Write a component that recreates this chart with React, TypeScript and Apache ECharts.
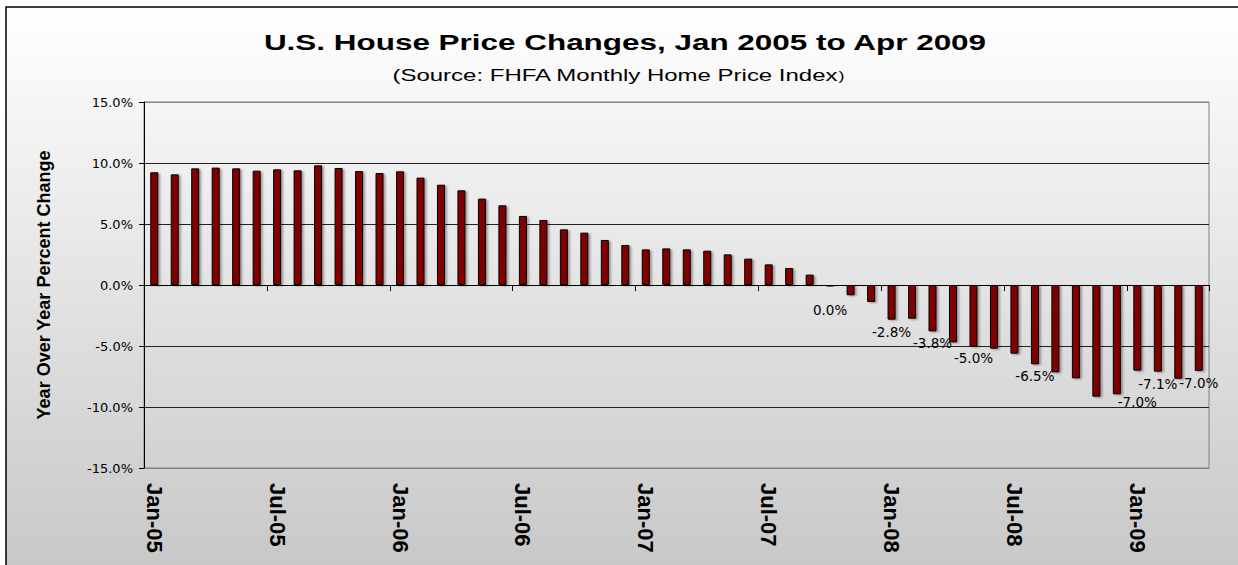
import React, { useEffect, useRef } from "react";
import * as echarts from "echarts";

const MONTHS = ["Jan", "Feb", "Mar", "Apr", "May", "Jun", "Jul", "Aug", "Sep", "Oct", "Nov", "Dec"];
const YEARS = ["05", "06", "07", "08", "09"];
const MONTHS_IN_LAST_YEAR = 4;

const CATEGORIES: string[] = [];
YEARS.forEach((y, yi) => {
  const n = yi === YEARS.length - 1 ? MONTHS_IN_LAST_YEAR : 12;
  for (let m = 0; m < n; m++) CATEGORIES.push(`${MONTHS[m]}-${y}`);
});

// Year-over-year percent change, Jan 2005 .. Apr 2009
const YOY_CHANGE = [
  9.24, 9.07, 9.56, 9.62, 9.56, 9.37, 9.48, 9.40, 9.81, 9.59, 9.34, 9.18,
  9.32, 8.80, 8.22, 7.76, 7.08, 6.53, 5.66, 5.33, 4.56, 4.29, 3.69, 3.28,
  2.92, 3.00, 2.92, 2.81, 2.51, 2.16, 1.69, 1.39, 0.85, -0.04, -0.84, -1.39,
  -2.84, -2.76, -3.80, -4.70, -5.04, -5.22, -5.63, -6.50, -7.16, -7.65, -9.15, -8.96,
  -7.02, -7.10, -7.68, -7.04,
];

const LABELED_INDEXES = [33, 36, 38, 40, 43, 48, 49, 51];
const LABEL_DISTANCE_OVERRIDES: Record<number, number> = { 33: 16, 48: 24 };

const Y_MIN = -15;
const Y_MAX = 15;
const Y_INTERVAL = 5;

const TITLE = "U.S. House Price Changes, Jan 2005 to Apr 2009";
const SUBTITLE = "(Source: FHFA Monthly Home Price Index";
const Y_NAME = "Year Over Year Percent Change";

const FONT = '"Liberation Sans", Arial, sans-serif';
const WIDE_FONT = '"DejaVu Sans", Verdana, sans-serif';

const fmtPct = (v: number) => {
  const r = Math.round(v * 10) / 10;
  return (r === 0 ? 0 : r).toFixed(1) + "%";
};

export default function App() {
  const ref = useRef<HTMLDivElement>(null);

  useEffect(() => {
    if (!ref.current) return;
    const chart = echarts.init(ref.current, undefined, { renderer: "svg" });

    const data = YOY_CHANGE.map((v, i) => {
      if (!LABELED_INDEXES.includes(i)) return v;
      return {
        value: v,
        label: {
          show: true,
          position: "bottom",
          distance: LABEL_DISTANCE_OVERRIDES[i] ?? 5,
        },
      };
    });

    chart.setOption({
      animation: false,
      backgroundColor: "#ffffff",
      graphic: [
        {
          type: "rect",
          z: -100,
          silent: true,
          shape: { x: 6, y: 7, width: 1260, height: 600 },
          style: {
            fill: new echarts.graphic.LinearGradient(0, 0, 0, 1, [
              { offset: 0, color: "#ffffff" },
              { offset: 1, color: "#c4c4c4" },
            ]),
            stroke: "#000000",
            lineWidth: 1.5,
          },
        },
        {
          type: "text",
          x: 625,
          y: 42,
          scaleX: 1.43,
          style: {
            text: TITLE,
            align: "center",
            verticalAlign: "middle",
            fontFamily: FONT,
            fontWeight: "bold",
            fontSize: 22,
            fill: "#000000",
          },
        },
        {
          type: "text",
          x: 618,
          y: 76,
          scaleX: 1.5,
          style: {
            text: SUBTITLE + "{s|)}",
            align: "center",
            verticalAlign: "middle",
            fontFamily: FONT,
            fontSize: 16,
            fill: "#000000",
            rich: { s: { fontFamily: FONT, fontSize: 12, fill: "#000000" } },
          },
        },
      ],
      grid: {
        left: 144,
        top: 102,
        width: 1065,
        height: 366,
        show: true,
        borderColor: "#808080",
        borderWidth: 1,
        backgroundColor: "transparent",
      },
      xAxis: [
        {
          type: "category",
          data: CATEGORIES,
          position: "bottom",
          boundaryGap: true,
          axisLine: { show: true, onZero: true, lineStyle: { color: "#000000", width: 1 } },
          axisTick: { show: true, interval: 5, length: 6, lineStyle: { color: "#000000" } },
          axisLabel: { show: false },
          splitLine: { show: false },
        },
        {
          type: "category",
          data: CATEGORIES,
          position: "bottom",
          boundaryGap: true,
          axisLine: { show: false, onZero: false },
          axisTick: { show: false },
          axisLabel: {
            show: true,
            interval: 5,
            rotate: -90,
            margin: 15,
            fontFamily: FONT,
            fontWeight: "bold",
            fontSize: 22,
            color: "#000000",
          },
          splitLine: { show: false },
        },
      ],
      yAxis: {
        type: "value",
        min: Y_MIN,
        max: Y_MAX,
        interval: Y_INTERVAL,
        name: Y_NAME,
        nameLocation: "middle",
        nameRotate: 90,
        nameGap: 91,
        nameTextStyle: {
          fontFamily: FONT,
          fontWeight: "bold",
          fontSize: 18,
          color: "#000000",
        },
        axisLine: { show: true, lineStyle: { color: "#000000", width: 1 } },
        axisTick: { show: true, length: 5, lineStyle: { color: "#000000" } },
        axisLabel: {
          formatter: (v: number) => v.toFixed(1) + "%",
          margin: 11,
          fontFamily: WIDE_FONT,
          fontSize: 13,
          color: "#000000",
        },
        splitLine: {
          show: true,
          lineStyle: {
            color: ["#808080", "#222222", "#222222", "#222222", "#222222", "#222222", "#808080"],
            width: 1,
          },
        },
      },
      series: [
        {
          type: "bar",
          xAxisIndex: 0,
          data,
          barWidth: 8,
          barMinHeight: 1.5,
          itemStyle: {
            color: "#800000",
            borderColor: "#000000",
            borderWidth: 1,
            shadowColor: "rgba(0,0,0,0.35)",
            shadowBlur: 2,
            shadowOffsetX: 2,
            shadowOffsetY: 1,
          },
          label: {
            show: false,
            formatter: (p: any) => fmtPct(p.value),
            fontFamily: WIDE_FONT,
            fontSize: 13.5,
            color: "#000000",
          },
        },
      ],
    });

    return () => chart.dispose();
  }, []);

  return (
    <div
      ref={ref}
      style={{ position: "fixed", left: 0, top: 0, width: 1238, height: 565 }}
    />
  );
}
